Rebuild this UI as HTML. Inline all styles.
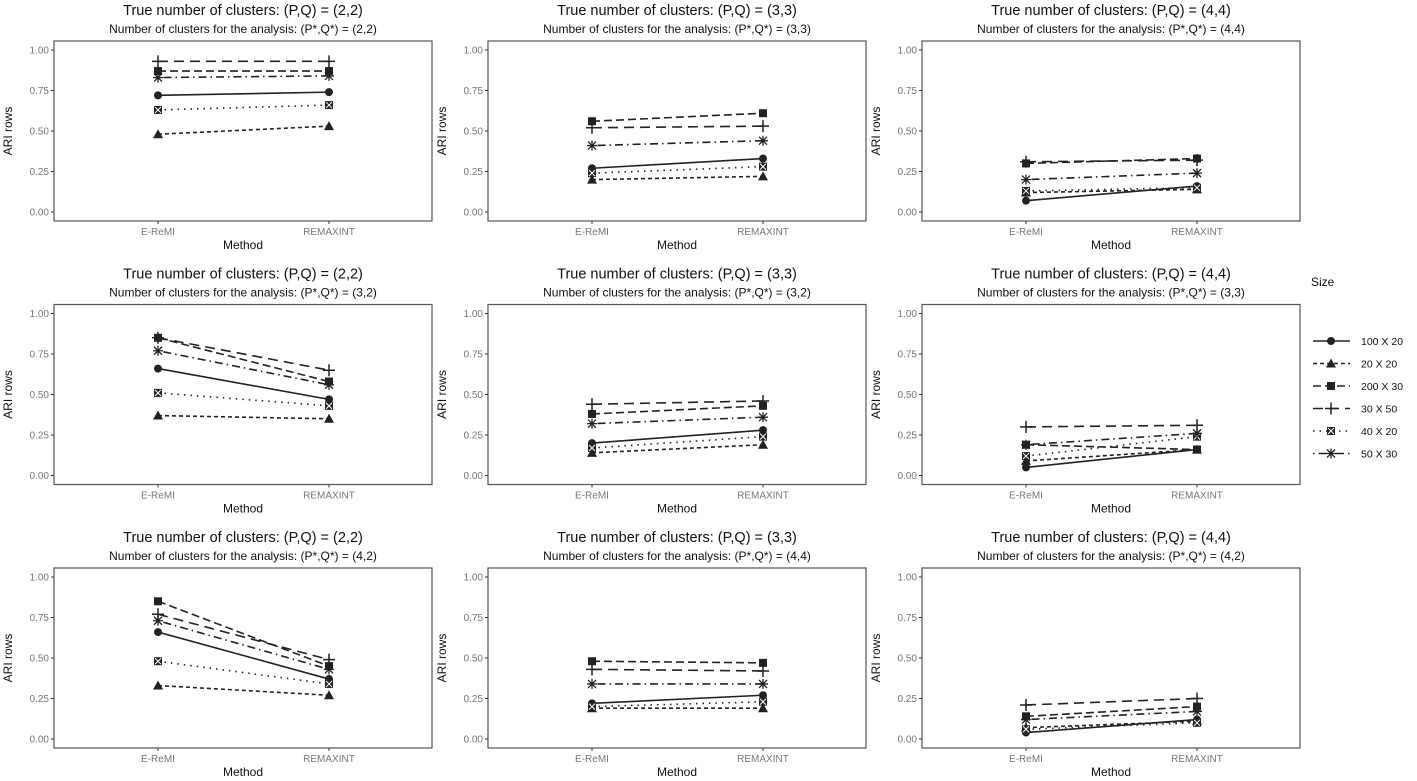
<!DOCTYPE html>
<html><head><meta charset="utf-8"><style>
body{margin:0;background:#fff;}
svg{display:block;font-family:"Liberation Sans",Arial,sans-serif;}
</style></head><body>
<svg id="c" width="1417" height="781"></svg>
<script>
const methods=["E-ReMI","REMAXINT"];
const sizes=["100 X 20","20 X 20","200 X 30","30 X 50","40 X 20","50 X 30"];
const yTicks=[0,0.25,0.5,0.75,1];
const yTickLabels=["0.00","0.25","0.50","0.75","1.00"];
const trueLabels=["(2,2)","(3,3)","(4,4)","(2,2)","(3,3)","(4,4)","(2,2)","(3,3)","(4,4)"];
const anaLabels=["(2,2)","(3,3)","(4,4)","(3,2)","(3,2)","(3,3)","(4,2)","(4,4)","(4,2)"];
// values per panel: rows = sizes, [E-ReMI, REMAXINT]
const p1=[[.72,.74],[.48,.53],[.87,.87],[.93,.93],[.63,.66],[.83,.84]];
const p2=[[.27,.33],[.20,.22],[.56,.61],[.52,.53],[.24,.28],[.41,.44]];
const p3=[[.07,.16],[.12,.14],[.30,.33],[.31,.32],[.13,.15],[.20,.24]];
const p4=[[.66,.47],[.37,.35],[.85,.58],[.85,.65],[.51,.43],[.77,.56]];
const p5=[[.20,.28],[.14,.19],[.38,.43],[.44,.46],[.17,.24],[.32,.36]];
const p6=[[.05,.16],[.09,.16],[.19,.16],[.30,.31],[.12,.24],[.19,.26]];
const p7=[[.66,.37],[.33,.27],[.85,.45],[.77,.49],[.48,.34],[.73,.43]];
const p8=[[.22,.27],[.19,.19],[.48,.47],[.43,.42],[.20,.23],[.34,.34]];
const p9=[[.04,.12],[.07,.11],[.14,.20],[.21,.25],[.06,.10],[.12,.17]];
const panels=[p1,p2,p3,p4,p5,p6,p7,p8,p9];

const NS="http://www.w3.org/2000/svg";
const svg=document.getElementById('c');
function mk(tag,attrs,parent,text){const e=document.createElementNS(NS,tag);for(const k in attrs)e.setAttribute(k,attrs[k]);if(text!==undefined)e.textContent=text;(parent||svg).appendChild(e);return e;}
const dashes=["","4,3","8,4","10,6","1.5,5","1.5,4,8,4"];
const colL=[54,488,922], rowT=[41,304.5,568], W=378, H=180;
function marker(g,i,x,y){
  let m;
  if(i===0)m=mk('circle',{cx:x,cy:y,r:4,fill:"#222"},g);
  else if(i===1)m=mk('polygon',{points:`${x},${y-5} ${x-5},${y+4} ${x+5},${y+4}`,fill:"#222"},g);
  else if(i===2)m=mk('rect',{x:x-4,y:y-4,width:8,height:8,fill:"#222"},g);
  else if(i===3)m=mk('path',{d:`M${x-6},${y}H${x+6}M${x},${y-6}V${y+6}`,stroke:"#222","stroke-width":1.5,fill:"none"},g);
  else if(i===4){m=mk('g',{},g);mk('rect',{x:x-4,y:y-4,width:8,height:8,fill:"#222"},m);mk('path',{d:`M${x-3},${y-3}L${x+3},${y+3}M${x+3},${y-3}L${x-3},${y+3}`,stroke:"#fff","stroke-width":1},m);}
  else m=mk('path',{d:`M${x-5},${y}H${x+5}M${x},${y-5}V${y+5}M${x-4},${y-4}L${x+4},${y+4}M${x+4},${y-4}L${x-4},${y+4}`,stroke:"#222","stroke-width":1.3,fill:"none"},g);
  
  
}
panels.forEach((data,pi)=>{
  const L=colL[pi%3], T=rowT[Math.floor(pi/3)];
  const y0=T+171, y1=T+9;
  const ys=v=>y0-(y0-y1)*v;
  const xs=j=>L+104+j*171;
  const g=mk('g',{},svg);
  
  
  const t1=mk('text',{x:L+H+9,y:T-26,"text-anchor":"middle","font-size":14.5,fill:"#111"},g,"True number of clusters: (P,Q) = "+trueLabels[pi]);
  
  const t2=mk('text',{x:L+H+9,y:T-8,"text-anchor":"middle","font-size":12,fill:"#111"},g,"Number of clusters for the analysis: (P*,Q*) = "+anaLabels[pi]);
  
  const fr=mk('rect',{x:L,y:T,width:W,height:H,fill:"#fff",stroke:"#555","stroke-width":1.2},g);
  
  yTicks.forEach((v,k)=>{
    mk('line',{x1:L-3,x2:L,y1:ys(v),y2:ys(v),stroke:"#333"},g);
    const tl=mk('text',{x:L-5,y:ys(v)+3.5,"text-anchor":"end","font-size":10,fill:"#777"},g,yTickLabels[k]);
    
  });
  methods.forEach((m,j)=>{
    mk('line',{x1:xs(j),x2:xs(j),y1:T+H,y2:T+H+3,stroke:"#333"},g);
    const tl=mk('text',{x:xs(j),y:T+H+14,"text-anchor":"middle","font-size":10,fill:"#777"},g,m);
    
  });
  const xt=mk('text',{x:L+H+9,y:T+H+28,"text-anchor":"middle","font-size":12,fill:"#111"},g,"Method");
  
  const yt=mk('text',{x:0,y:0,transform:`translate(${L-42},${T+H/2}) rotate(-90)`,"text-anchor":"middle","font-size":12,fill:"#111"},g,"ARI rows");
  
  data.forEach((vals,i)=>{
    const ln=mk('line',{x1:xs(0),y1:ys(vals[0]),x2:xs(1),y2:ys(vals[1]),stroke:"#222","stroke-width":1.6,"stroke-dasharray":dashes[i]},g);
    
    vals.forEach((v,j)=>marker(g,i,xs(j),ys(v)));
  });
});
const lg=mk('g',{},svg);


const lt=mk('text',{x:1311,y:286,"font-size":12,fill:"#111"},lg,"Size");

sizes.forEach((s,i)=>{
  const y=341+i*22.5;
  const e=mk('g',{},lg);
  
  
  mk('line',{x1:1313,x2:1350,y1:y,y2:y,stroke:"#222","stroke-width":1.6,"stroke-dasharray":dashes[i]},e);
  marker(e,i,1331,y);
  mk('text',{x:1361,y:y+4,"font-size":10.5,fill:"#111"},e,s);
});
</script>
</body></html>
